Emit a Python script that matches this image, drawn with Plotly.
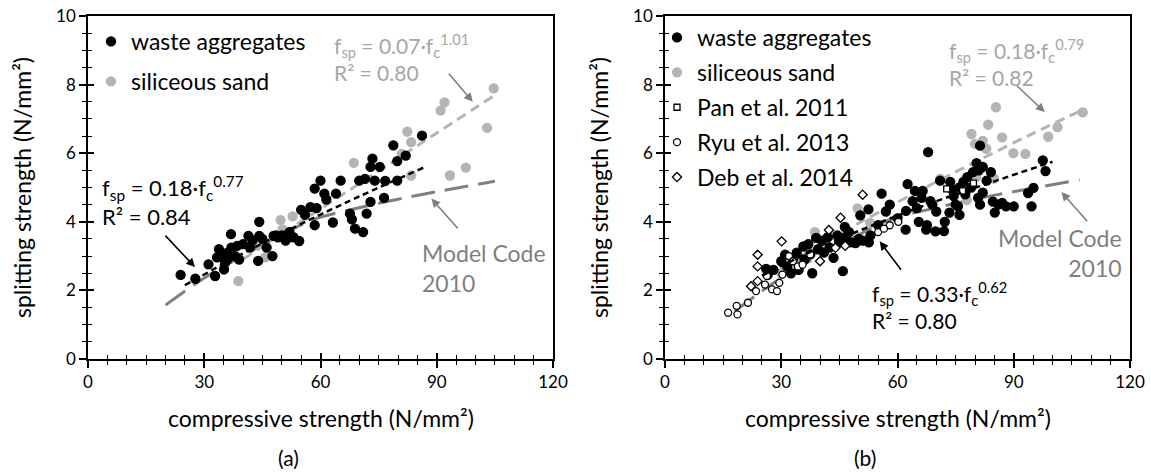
import plotly.graph_objects as go
from plotly.subplots import make_subplots

# ---------------- data: panel (a) ----------------
a_waste_x = [23.9, 27.7, 31.1, 32.8, 33.3, 33.8, 34.5, 35.4, 35.1, 36.0, 36.9, 36.0, 38.0, 37.0, 40.0,
             41.4, 41.8, 43.9, 44.2, 46.1, 47.6, 47.9, 50.0, 52.0, 54.5, 53.0, 44.2, 48.5, 57.4, 59.0,
             58.5, 60.0, 61.0, 61.5, 64.0, 63.2, 58.5, 65.2, 67.6, 68.1, 68.9, 71.0, 70.0, 71.5, 72.9,
             73.4, 75.3, 72.9, 71.9, 74.0, 76.7, 76.4, 79.8, 78.8, 79.8, 82.0, 86.2, 39.0, 42.5, 45.0,
             49.0, 51.0, 55.0, 38.5, 56.0]
a_waste_y = [2.45, 2.34, 2.76, 2.42, 2.96, 3.20, 3.00, 2.81, 2.61, 2.90, 3.64, 3.10, 3.00, 3.25, 3.35,
             3.59, 3.25, 2.86, 3.59, 3.25, 3.00, 3.59, 3.60, 3.70, 3.44, 3.55, 4.00, 3.60, 4.43, 4.40,
             4.97, 5.20, 4.82, 4.65, 4.82, 3.98, 3.90, 5.20, 4.24, 4.07, 3.80, 3.70, 5.20, 5.25, 5.60,
             5.84, 5.60, 4.58, 4.24, 5.20, 5.19, 4.70, 5.77, 6.23, 5.20, 5.93, 6.51, 2.90, 3.45, 3.50,
             3.55, 3.45, 4.35, 3.30, 4.20]
a_sand_x = [104.7, 92.0, 91.0, 103.0, 82.4, 83.4, 81.0, 83.4, 93.4, 97.5, 68.6, 49.7, 52.8, 50.2, 38.8, 45.7]
a_sand_y = [7.89, 7.48, 7.24, 6.74, 6.63, 6.32, 5.98, 5.35, 5.35, 5.58, 5.72, 4.05, 4.16, 3.78, 2.27, 2.96]

# fitted / code curves (panel a)
a_fitw_x = [25, 40, 55, 70, 87]
a_fitw_y = [2.15, 3.08, 3.94, 4.74, 5.60]
a_fits_x = [40, 55, 70, 85, 105]
a_fits_y = [2.91, 4.01, 5.11, 6.22, 7.69]
mc_a_x = [20, 30, 40, 50, 58, 70, 80, 90, 105]
mc_a_y = [1.57, 2.36, 3.02, 3.62, 4.06, 4.41, 4.66, 4.88, 5.18]

# ---------------- data: panel (b) ----------------
b_waste_x = [26.1, 26.5, 28.0, 30.0, 31.0, 31.5, 32.5, 33.0, 34.0, 34.5, 35.7, 36.0, 37.0, 37.5, 38.0,
             39.0, 39.5, 40.5, 41.0, 42.0, 42.5, 43.5, 44.5, 45.0, 45.9, 46.5, 47.5, 48.0, 49.2, 50.0,
             51.0, 52.6, 46.4, 50.4, 52.5, 55.9, 62.1, 62.2, 62.6, 63.9, 64.5, 65.0, 65.5, 66.2, 66.5,
             67.4, 67.6, 67.9, 68.5, 69.0, 69.8, 70.0, 71.0, 72.0, 72.2, 73.4, 73.6, 74.0, 74.5, 75.0,
             75.6, 76.0, 77.0, 77.5, 78.0, 79.0, 80.4, 80.8, 81.0, 81.3, 81.3, 82.0, 83.0, 84.1, 84.6,
             85.1, 86.0, 87.0, 88.0, 90.0, 93.7, 94.6, 95.1, 97.5, 98.2, 60.0, 58.0, 57.0, 55.0, 53.0,
             79.5, 82.0, 76.0]
b_waste_y = [2.63, 2.45, 2.60, 2.85, 3.04, 2.70, 2.50, 2.90, 3.10, 2.60, 3.28, 2.90, 3.35, 3.05, 2.50,
             3.53, 3.20, 3.45, 3.10, 3.55, 3.25, 2.95, 3.60, 3.40, 2.56, 3.55, 3.70, 3.40, 3.38, 3.50,
             3.45, 3.40, 3.85, 4.19, 4.36, 4.82, 3.77, 4.32, 5.10, 4.60, 4.90, 4.40, 4.00, 4.70, 4.90,
             3.77, 3.90, 6.03, 4.60, 4.50, 3.72, 4.30, 5.20, 3.73, 4.00, 4.27, 5.16, 4.95, 4.75, 4.50,
             4.45, 5.00, 5.16, 4.80, 5.30, 5.00, 5.71, 4.70, 5.50, 4.50, 6.22, 5.60, 5.20, 5.45, 4.59,
             4.27, 4.50, 4.55, 4.45, 4.45, 4.84, 4.45, 4.99, 5.79, 5.48, 4.10, 4.50, 4.30, 3.90, 3.60,
             5.45, 4.85, 4.20]
b_sand_x = [107.8, 101.3, 98.9, 85.4, 83.4, 79.1, 80.0, 82.0, 87.0, 82.9, 89.9, 93.0, 84.9, 80.3, 77.9,
            49.7, 52.9, 38.7, 32.3, 37.3, 40.6, 44.0, 35.0, 30.0, 45.0, 71.0]
b_sand_y = [7.19, 6.76, 6.48, 7.34, 6.83, 6.56, 6.27, 6.36, 6.46, 6.13, 6.00, 5.98, 5.26, 5.30, 4.63,
            4.39, 3.97, 3.70, 2.75, 3.14, 3.38, 3.60, 2.90, 2.50, 3.50, 5.25]
pan_x = [72.7, 76.8, 79.6]
pan_y = [4.96, 4.90, 5.13]
ryu_x = [16.3, 18.5, 18.7, 21.4, 23.5, 25.8, 26.3, 27.6, 28.9, 29.5, 30.3, 32.0, 33.0, 34.3, 35.5,
         37.5, 55.0, 58.0, 60.2, 56.5]
ryu_y = [1.35, 1.55, 1.30, 1.64, 1.98, 2.17, 2.42, 2.03, 1.98, 2.22, 2.46, 3.00, 2.85, 2.70, 2.75,
         3.05, 3.70, 3.90, 4.00, 3.80]
deb_x = [22.2, 23.9, 23.9, 23.9, 30.1, 40.0, 44.0, 42.3, 45.3, 51.0, 46.5]
deb_y = [2.12, 2.27, 2.70, 3.04, 3.43, 2.85, 3.24, 3.76, 4.12, 4.79, 3.30]

b_fitw_x = [25, 40, 55, 70, 85, 100]
b_fitw_y = [2.43, 3.25, 3.96, 4.60, 5.18, 5.75]
b_fits_x = [35, 50, 65, 80, 95, 107]
b_fits_y = [2.99, 3.96, 4.87, 5.74, 6.58, 7.22]
mc_b_x = [18, 25, 30, 40, 50, 58, 70, 80, 90, 107]
mc_b_y = [1.39, 1.98, 2.36, 3.02, 3.62, 4.06, 4.41, 4.66, 4.88, 5.22]

# ---------------- styling ----------------
FONT = "Lato"
BLACK = "#000000"
LGRAY = "#b4b4b4"
DGRAY = "#7f7f7f"
TGRAY = "#a6a6a6"

fig = make_subplots(rows=1, cols=2)

def add_scatter(x, y, name, col, symbol, color, lcolor, size, legend):
    fig.add_trace(go.Scatter(x=x, y=y, mode="markers", name=name, legend=legend,
                             legendgroup=name + legend,
                             marker=dict(symbol=symbol, color=color, size=size,
                                         line=dict(color=lcolor, width=1.3))),
                  row=1, col=col)

def add_line(x, y, col, color, dash, width):
    fig.add_trace(go.Scatter(x=x, y=y, mode="lines", showlegend=False, hoverinfo="skip",
                             line=dict(color=color, dash=dash, width=width, shape="spline")),
                  row=1, col=col)

# panel a
add_line(mc_a_x, mc_a_y, 1, DGRAY, "24px,10px", 3)
add_line(a_fits_x, a_fits_y, 1, LGRAY, "10px,6px", 3)
add_scatter(a_sand_x, a_sand_y, "siliceous sand", 1, "circle", LGRAY, LGRAY, 9, "legend")
add_scatter(a_waste_x, a_waste_y, "waste aggregates", 1, "circle", BLACK, BLACK, 9, "legend")
add_line(a_fitw_x, a_fitw_y, 1, BLACK, "6px,4px", 2.5)

# panel b
add_line(mc_b_x, mc_b_y, 2, DGRAY, "24px,10px", 3)
add_line(b_fits_x, b_fits_y, 2, LGRAY, "10px,6px", 3)
add_scatter(b_sand_x, b_sand_y, "siliceous sand", 2, "circle", LGRAY, LGRAY, 9, "legend2")
add_scatter(b_waste_x, b_waste_y, "waste aggregates", 2, "circle", BLACK, BLACK, 9, "legend2")
add_scatter(pan_x, pan_y, "Pan et al. 2011", 2, "square", "white", BLACK, 6, "legend2")
add_scatter(ryu_x, ryu_y, "Ryu et al. 2013", 2, "circle", "white", BLACK, 7, "legend2")
add_scatter(deb_x, deb_y, "Deb et al. 2014", 2, "diamond", "white", BLACK, 7, "legend2")
add_line(b_fitw_x, b_fitw_y, 2, BLACK, "6px,4px", 2.5)

order = {"waste aggregates": 1, "siliceous sand": 2, "Pan et al. 2011": 3,
         "Ryu et al. 2013": 4, "Deb et al. 2014": 5}
for tr in fig.data:
    if tr.name in order:
        tr.legendrank = order[tr.name]

W, H = 1151, 473
ytop, ybot = 16, 359
xa = (88, 553)
xb = (665, 1130)

axis_common = dict(showline=True, linecolor=BLACK, linewidth=1.5, mirror=True,
                   showgrid=False, zeroline=False, ticks="outside", ticklen=7, tickwidth=1.5,
                   tickcolor=BLACK, automargin=False,
                   tickfont=dict(family=FONT, size=17, color=BLACK))

fig.update_xaxes(**axis_common, range=[0, 120], dtick=30, tick0=0,
                 minor=dict(dtick=5, ticks="outside", ticklen=4, tickwidth=1.2, tickcolor=BLACK))
fig.update_yaxes(**axis_common, range=[0, 10], dtick=2, tick0=0,
                 minor=dict(dtick=0.5, ticks="outside", ticklen=4, tickwidth=1.2, tickcolor=BLACK),
                 title=dict(text="splitting strength (N/mm²)", standoff=18,
                            font=dict(family=FONT, size=23, color=BLACK)))

# tick-only overlay axes so the tick marks cross the axis lines (inside part)
inside_x = dict(range=[0, 120], dtick=30, tick0=0, ticks="inside", ticklen=6, tickwidth=1.5,
                tickcolor=BLACK, showticklabels=False, showline=False, showgrid=False,
                zeroline=False, side="bottom",
                minor=dict(dtick=5, ticks="inside", ticklen=4, tickwidth=1.2, tickcolor=BLACK))
inside_y = dict(range=[0, 10], dtick=2, tick0=0, ticks="inside", ticklen=6, tickwidth=1.5,
                tickcolor=BLACK, showticklabels=False, showline=False, showgrid=False,
                zeroline=False, side="left",
                minor=dict(dtick=0.5, ticks="inside", ticklen=4, tickwidth=1.2, tickcolor=BLACK))
for xo, yo in (("x3", "y3"), ("x4", "y4")):
    fig.add_trace(go.Scatter(x=[], y=[], xaxis=xo, yaxis=yo, showlegend=False, hoverinfo="skip"))

fig.update_layout(
    width=W, height=H, margin=dict(l=0, r=0, t=0, b=0),
    paper_bgcolor="white", plot_bgcolor="white",
    font=dict(family=FONT, color=BLACK),
    xaxis=dict(domain=[xa[0] / W, xa[1] / W]),
    xaxis2=dict(domain=[xb[0] / W, xb[1] / W]),
    yaxis=dict(domain=[1 - ybot / H, 1 - ytop / H]),
    yaxis2=dict(domain=[1 - ybot / H, 1 - ytop / H]),
    xaxis3=dict(inside_x, overlaying="x", anchor="y", domain=[xa[0] / W, xa[1] / W]),
    yaxis3=dict(inside_y, overlaying="y", anchor="x", domain=[1 - ybot / H, 1 - ytop / H]),
    xaxis4=dict(inside_x, overlaying="x2", anchor="y2", domain=[xb[0] / W, xb[1] / W]),
    yaxis4=dict(inside_y, overlaying="y2", anchor="x2", domain=[1 - ybot / H, 1 - ytop / H]),
    legend=dict(x=91 / W, y=1 - 20 / H, xanchor="left", yanchor="top",
                bgcolor="rgba(0,0,0,0)", tracegroupgap=7, itemwidth=30,
                font=dict(family=FONT, size=23, color=BLACK)),
    legend2=dict(x=657 / W, y=1 - 16 / H, xanchor="left", yanchor="top",
                 bgcolor="rgba(0,0,0,0)", tracegroupgap=2, itemwidth=30,
                 font=dict(family=FONT, size=23, color=BLACK)),
    showlegend=True,
)

ann = []
def text(x, y, s, xref, yref, color, size=21, xanchor="left", align="left"):
    ann.append(dict(x=x, y=y, xref=xref, yref=yref, text=s, showarrow=False,
                    xanchor=xanchor, yanchor="middle", align=align,
                    font=dict(family=FONT, size=size, color=color)))

def arrow(x, y, ax, ay, xref, yref, color):
    ann.append(dict(x=x, y=y, ax=ax, ay=ay, xref=xref, yref=yref, axref=xref, ayref=yref,
                    text="", showarrow=True, arrowhead=2, arrowsize=1.1, arrowwidth=1.6,
                    arrowcolor=color))

# panel a annotations
text(63.0, 8.8, "f<sub>sp</sub> = 0.07·f<sub>c</sub><sup>1.01</sup><br>R² = 0.80", "x", "y", TGRAY)
arrow(99.3, 7.5, 92.8, 8.36, "x", "y", DGRAY)
text(3, 4.62, "f<sub>sp</sub> = 0.18·f<sub>c</sub><sup>0.77</sup><br>R² = 0.84", "x", "y", BLACK, size=22)
arrow(27.6, 2.68, 19.6, 3.64, "x", "y", BLACK)
text(85.7, 2.65, "Model Code<br>2010", "x", "y", DGRAY, size=23)
arrow(88.6, 4.68, 95.8, 3.76, "x", "y", DGRAY)

# panel b annotations
text(72.7, 8.65, "f<sub>sp</sub> = 0.18·f<sub>c</sub><sup>0.79</sup><br>R² = 0.82", "x2", "y2", TGRAY)
arrow(98.0, 7.2, 90.5, 8.0, "x2", "y2", DGRAY)
text(53, 1.55, "f<sub>sp</sub> = 0.33·f<sub>c</sub><sup>0.62</sup><br>R² = 0.80", "x2", "y2", BLACK)
arrow(55.4, 3.43, 61.2, 2.56, "x2", "y2", BLACK)
text(118.5, 3.1, "Model Code<br>2010", "x2", "y2", DGRAY, size=23, xanchor="right", align="right")
arrow(102.3, 4.87, 109.3, 3.97, "x2", "y2", DGRAY)

# x-axis titles centred on each plot, captions under each half of the figure
for (x0, x1), cap_x, cap in ((xa, 289, "(a)"), (xb, 865, "(b)")):
    ann.append(dict(x=(x0 + x1) / 2 / W, y=1 - 418 / H, xref="paper", yref="paper",
                    xanchor="center", yanchor="middle",
                    text="compressive strength (N/mm²)", showarrow=False,
                    font=dict(family=FONT, size=23, color=BLACK)))
    ann.append(dict(x=cap_x / W, y=1 - 457 / H, xref="paper", yref="paper",
                    xanchor="center", yanchor="middle", text=cap,
                    showarrow=False, font=dict(family=FONT, size=21, color=BLACK)))

fig.update_layout(annotations=ann)

fig.write_html("out.html")
